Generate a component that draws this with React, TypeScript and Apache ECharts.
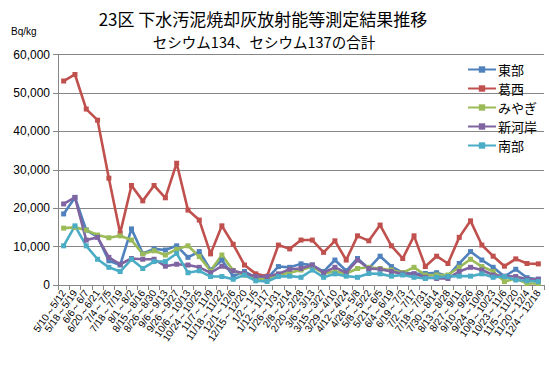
import React, { useEffect, useRef } from "react";
import * as echarts from "echarts";

const categories = [
  "5/10～5/12", "5/18～5/19", "6/6～6/7", "6/20～6/21", "7/4～7/5", "7/18～7/19", "8/1～8/2", "8/15～8/16", "8/26～8/30", "9/6～9/13",
  "9/26～9/27", "10/6～10/13", "10/24～10/25", "11/7～11/9", "11/18～11/22", "12/1～12/6", "12/15～12/20", "1/2～1/5", "1/12～1/17", "1/26～1/31",
  "2/8～2/14", "2/20～2/28", "3/6～3/13", "3/15～3/27", "3/29～4/10", "4/12～4/24", "4/26～5/8", "5/8～5/22", "5/21～6/5", "6/4～6/19",
  "6/19～7/3", "7/2～7/17", "7/18～7/31", "7/30～8/14", "8/13～8/28", "8/27～9/11", "9/10～9/26", "9/24～10/9", "10/9～10/23", "10/23～11/6",
  "11/5～11/20", "11/20～12/4", "12/4～12/18",
];

const toubu = [18500, 22800, 14300, 12500, 6300, 5200, 14600, 8200, 9400, 9100, 10200, 7200, 8700, 3900, 6500, 2300, 3500, 2000, 1700, 4800, 4600, 5500, 5200, 3500, 6500, 3700, 6900, 4300, 7500, 4800, 3200, 2900, 3000, 3200, 2300, 5600, 8700, 6500, 4600, 2200, 4100, 1900, 1500];
const kasai = [53100, 54800, 45800, 42900, 27800, 13500, 25900, 21900, 25900, 22700, 31700, 19500, 16900, 8100, 15400, 10600, 5200, 2900, 2300, 10400, 9400, 11700, 11700, 8500, 11500, 6500, 12800, 11500, 15600, 10200, 6900, 12800, 4800, 7500, 5600, 12400, 16700, 10400, 7500, 4900, 6800, 5600, 5500];
const miyagi = [14800, 15000, 14300, 13000, 12300, 12800, 11700, 8100, 8900, 7800, 9300, 10200, 7400, 3700, 7800, 3800, 2600, 1700, 1500, 2600, 3200, 3900, 4800, 3000, 3500, 3000, 4300, 4600, 4300, 3900, 3200, 4600, 2600, 2600, 2600, 4600, 6700, 4800, 3500, 900, 1700, 400, 400];
const shingashi = [21100, 22800, 11700, 12400, 7200, 5400, 6900, 6700, 6700, 4900, 5400, 5200, 4600, 3200, 4900, 3700, 3000, 2200, 2200, 2900, 4100, 4300, 5200, 3200, 4600, 3200, 6500, 4300, 4100, 3500, 2900, 2900, 2000, 1700, 1700, 3500, 4600, 3900, 2600, 2300, 2200, 1500, 1500];
const nanbu = [10200, 15400, 10200, 6700, 4600, 3500, 6700, 4300, 6100, 6100, 8200, 3200, 3700, 2200, 2200, 1500, 2600, 1100, 900, 2200, 2300, 2000, 3900, 2000, 2900, 2300, 2000, 3000, 2900, 2300, 2600, 2000, 1700, 2000, 2200, 2300, 2300, 2900, 2000, 2200, 1300, 1100, 900];

const seriesNames = ["東部", "葛西", "みやぎ", "新河岸", "南部"];
const seriesData = [toubu, kasai, miyagi, shingashi, nanbu];
const colors = ["#4F81BD", "#C0504D", "#9BBB59", "#8064A2", "#4BACC6"];

const title1 = "23区 下水汚泥焼却灰放射能等測定結果推移";
const title2 = "セシウム134、セシウム137の合計";
const unitLabel = "Bq/kg";

export default function App() {
  const ref = useRef<HTMLDivElement>(null);
  useEffect(() => {
    if (!ref.current) return;
    const chart = echarts.init(ref.current, undefined, { renderer: "svg" });
    const cjk = "'Noto Sans CJK JP', sans-serif";
    const latin = "'Liberation Sans', Arial, sans-serif";
    chart.setOption({
      animation: false,
      backgroundColor: "#ffffff",
      grid: { left: 58, right: 5, top: 54.5, bottom: 85, containLabel: false, outerBoundsMode: "none" },
      graphic: [
        { type: "text", x: 263, y: 18, style: { text: title1, font: `17px ${cjk}`, fill: "#000", textAlign: "center", textVerticalAlign: "middle" } },
        { type: "text", x: 264, y: 41, style: { text: title2, font: `14.5px ${cjk}`, fill: "#000", textAlign: "center", textVerticalAlign: "middle" } },
        { type: "text", x: 11, y: 31, style: { text: unitLabel, font: `10px ${latin}`, fill: "#000", textAlign: "left", textVerticalAlign: "middle" } },
      ],
      legend: {
        orient: "vertical",
        left: 462,
        top: 58,
        itemWidth: 28,
        itemHeight: 8,
        itemGap: 6,
        textStyle: { fontSize: 13, fontFamily: cjk, color: "#000", padding: [0, 0, 0, -3] },
        data: seriesNames,
      },
      xAxis: {
        type: "category",
        data: categories,
        boundaryGap: true,
        axisLine: { lineStyle: { color: "#868686", width: 1 } },
        axisTick: { show: true, length: 5, lineStyle: { color: "#868686" } },
        axisLabel: { interval: 0, rotate: 55, fontSize: 10, fontFamily: latin, color: "#000", margin: 6 },
      },
      yAxis: {
        type: "value",
        min: 0,
        max: 60000,
        interval: 10000,
        axisLine: { show: true, lineStyle: { color: "#868686", width: 1 } },
        axisTick: { show: true, length: 5, lineStyle: { color: "#868686" } },
        splitLine: { lineStyle: { color: "#868686", width: 1 } },
        axisLabel: {
          fontSize: 12,
          fontFamily: latin,
          color: "#000",
          margin: 8,
          formatter: (v: number) => v.toLocaleString("en-US"),
        },
      },
      series: seriesNames.map((name, i) => ({
        name,
        type: "line",
        data: seriesData[i],
        color: colors[i],
        symbol: "rect",
        symbolSize: 5,
        lineStyle: { width: 2.6, color: colors[i] },
        itemStyle: { color: colors[i] },
      })),
    });
    return () => chart.dispose();
  }, []);
  return <div ref={ref} style={{ position: "fixed", left: 0, top: 0, width: 549, height: 370 }} />;
}
